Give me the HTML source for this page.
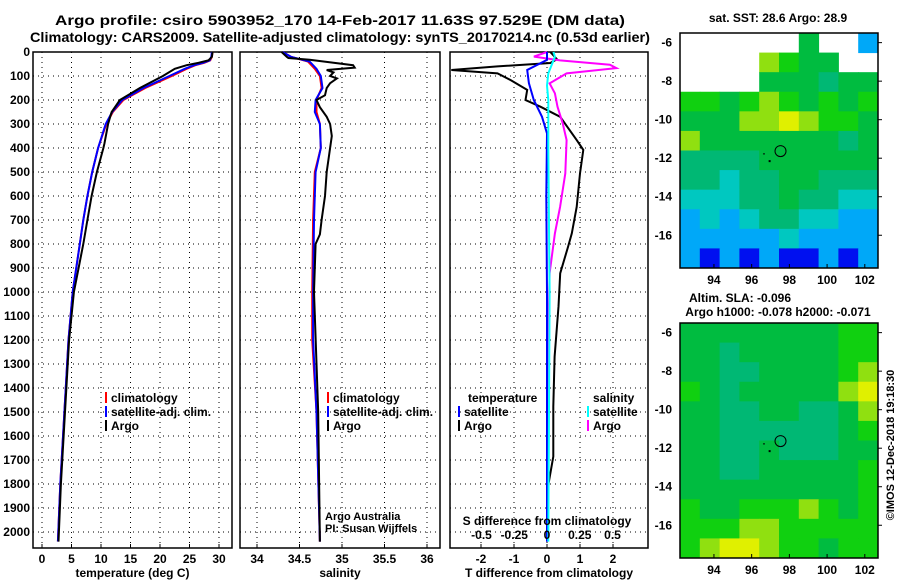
<!DOCTYPE html>
<html><head><meta charset="utf-8"><style>
body{margin:0;background:#fff;}
svg text{font-family:"Liberation Sans",sans-serif;font-weight:bold;fill:#000;}
</style></head><body>
<svg id="fig" width="900" height="580" viewBox="0 0 900 580" xmlns="http://www.w3.org/2000/svg">
<text x="340" y="25" font-size="14" text-anchor="middle" textLength="570" lengthAdjust="spacingAndGlyphs">Argo profile: csiro 5903952_170 14-Feb-2017 11.63S 97.529E (DM data)</text>
<text x="340" y="42" font-size="14" text-anchor="middle" textLength="620" lengthAdjust="spacingAndGlyphs">Climatology: CARS2009. Satellite-adjusted climatology: synTS_20170214.nc (0.53d earlier)</text>
<g id="g"></g>
</svg>
<script>
// ---- profile data ----
const depthAxisTicks=[0,100,200,300,400,500,600,700,800,900,1000,1100,1200,1300,1400,1500,1600,1700,1800,1900,2000];
const tempTicks=[0,5,10,15,20,25,30];
const salTicks=[34,34.5,35,35.5,36];
const tdiffTicks=[-2,-1,0,1,2];
const sdiffTicks=[-0.5,-0.25,0,0.25,0.5];
const sdiffTickLabels=["-0.5","-0.25","0","0.25","0.5"];

const tArgoDepth=[0,20,35,45,55,70,100,150,200,250,300,380,400,500,600,700,800,1000,1200,1500,1800,2040];
const tArgoVal=[28.9,28.8,28.2,26.5,24.5,22.5,20.5,16.6,13.2,11.8,11.2,10.6,10.4,9.3,8.4,7.7,7.0,5.4,4.6,3.9,3.2,2.8];
const tClimDepth=[0,20,35,45,55,70,100,150,200,250,300,400,500,600,700,800,1000,1200,1500,1800,2040];
const tClimVal=[28.9,28.8,28.5,27.5,26.0,24.5,22.0,17.5,13.8,12.0,10.9,9.5,8.5,7.7,7.0,6.4,5.2,4.5,3.8,3.1,2.7];
const tSatVal=[28.8,28.7,28.4,27.3,25.8,24.2,21.6,17.2,13.6,11.9,10.8,9.5,8.5,7.7,7.0,6.4,5.2,4.5,3.8,3.1,2.7];

const sArgoDepth=[0,20,25,32,45,55,65,75,85,100,110,130,150,180,200,230,270,300,350,400,450,500,600,700,760,800,1000,1500,2040];
const sArgoVal=[34.29,34.35,34.37,34.62,34.9,35.13,35.15,34.82,34.9,34.86,34.94,34.86,34.82,34.8,34.7,34.74,34.82,34.86,34.88,34.86,34.84,34.82,34.8,34.76,34.74,34.69,34.67,34.72,34.74];
const sClimDepth=[0,20,40,70,100,150,200,250,300,400,500,700,1000,1200,1500,2040];
const sClimVal=[34.3,34.4,34.6,34.68,34.74,34.76,34.7,34.7,34.74,34.75,34.68,34.66,34.65,34.65,34.7,34.74];
const sSatVal=[34.3,34.4,34.62,34.7,34.75,34.77,34.69,34.68,34.74,34.75,34.69,34.67,34.66,34.66,34.7,34.74];

const tdArgoDepth=[0,30,46,60,75,89,117,158,200,228,270,367,408,506,645,756,811,922,1061,1270,1478,1686,1797,1964,2040];
const tdArgoVal=[0.1,0.3,0.1,-1.5,-2.9,-1.5,-1.1,-0.6,-0.65,-0.2,0.4,0.9,1.1,1.0,0.9,0.75,0.64,0.4,0.35,0.23,0.19,0.19,0.05,0,0];
const tdSatDepth=[0,33,75,130,200,270,339,600,1000,2040];
const tdSatVal=[0,0,-0.6,-0.55,-0.4,-0.15,0,-0.02,0,0];
const sdArgoDepth=[0,19,35,53,67,89,131,172,228,297,367,506,645,756,922,1200,1500,2040];
const sdArgoVal=[0.0,-0.1,0.1,0.48,0.53,0.15,0.02,0.06,0.08,0.12,0.15,0.14,0.1,0.06,0.02,0.01,0,0];
const sdSatDepth=[0,20,89,140,200,400,1000,2040];
const sdSatVal=[0.05,0.06,0.01,0.0,0.01,0.01,0.02,0.01];

// ---- map data (palette index per cell; '.' = no data) ----
const sstRows=["......5..2","....7655..","....555455","6656765656","5557787665","7555555545","4444555555","4434455444","3334454433","2323443322","2222232222","2121211212"];
const slaRows=["5555555566","5545555566","5544555567","6545555578","5544554457","5544444456","5544544455","5544555556","5555555556","6556667656","6667766666","6788766566"];
const palette={"1":"#0010f0","2":"#00a8f8","3":"#00c8c0","4":"#00b874","5":"#00bc40","6":"#10d010","7":"#90e010","8":"#e0f000"};
const lonTicks=[94,96,98,100,102];
const latTicks=[-6,-8,-10,-12,-14,-16];

const NS="http://www.w3.org/2000/svg";
const G=document.getElementById('g');
function mk(tag,attrs,parent){const e=document.createElementNS(NS,tag);for(const k in attrs)e.setAttribute(k,attrs[k]);(parent||G).appendChild(e);return e;}
function txt(s,x,y,size,anchor,name,fill){const t=mk('text',{x:x,y:y,'font-size':size,'text-anchor':anchor||'start'});if(fill)t.setAttribute('fill',fill);t.textContent=s;


return t;}

const Y=d=>52+d*0.24;
const panels=[
 {l:33,r:232,X:v=>42+v*5.9,ticks:tempTicks,labs:tempTicks.map(String),title:"temperature (deg C)",name:"temperature-panel"},
 {l:240,r:440,X:v=>257+(v-34)*85,ticks:salTicks,labs:salTicks.map(String),title:"salinity",name:"salinity-panel"},
 {l:450,r:648,X:v=>547+v*33,ticks:tdiffTicks,labs:tdiffTicks.map(String),title:"T difference from climatology",name:"difference-panel"}
];
const pTop=52,pBot=548;
panels.forEach(p=>{
 const g=mk('g',{});
 
 
 depthAxisTicks.forEach(d=>{mk('line',{x1:p.l,x2:p.r,y1:Y(d),y2:Y(d),stroke:'#000','stroke-dasharray':'1,4','stroke-width':1},g);});
 p.ticks.forEach((v,i)=>{const x=p.X(v);mk('line',{x1:x,x2:x,y1:pTop,y2:pBot,stroke:'#000','stroke-dasharray':'1,4','stroke-width':1},g);
  mk('line',{x1:x,x2:x,y1:pBot,y2:pBot-4,stroke:'#000'},g);
  txt(p.labs[i],x,563,12,'middle','x-tick-label');});
 mk('rect',{x:p.l,y:pTop,width:p.r-p.l,height:pBot-pTop,fill:'none',stroke:'#000','stroke-width':1.5},g);
 txt(p.title,(p.l+p.r)/2,577,12,'middle','x-axis-title');
});
depthAxisTicks.forEach(d=>txt(String(d),30,Y(d)+4,12,'end','depth-tick-label'));

function line(dep,val,X,color,name,w){
 const pts=dep.map((d,i)=>X(val[i]).toFixed(1)+','+Y(d).toFixed(1)).join(' ');
 const e=mk('polyline',{points:pts,fill:'none',stroke:color,'stroke-width':w||2});
 
 
}
const P=panels;
line(tClimDepth,tClimVal,P[0].X,'#f00','temp-climatology-line');
line(tClimDepth,tSatVal,P[0].X,'#00f','temp-satellite-line');
line(tArgoDepth,tArgoVal,P[0].X,'#000','temp-argo-line');
line(sClimDepth,sClimVal,P[1].X,'#f00','sal-climatology-line');
line(sClimDepth,sSatVal,P[1].X,'#00f','sal-satellite-line');
line(sArgoDepth,sArgoVal,P[1].X,'#000','sal-argo-line');
const SX=v=>547+v*131;
line(tdArgoDepth,tdArgoVal,P[2].X,'#000','tdiff-argo-line');
line(sdArgoDepth,sdArgoVal,SX,'#f0f','sdiff-argo-line');
line(tdSatDepth,tdSatVal,P[2].X,'#00f','tdiff-satellite-line');
line(sdSatDepth,sdSatVal,SX,'#0ff','sdiff-satellite-line');

function leg(x,y,color,label){mk('rect',{x:x,y:y-10,width:2,height:11,fill:color});txt(label,x+6,y,12,'start','legend-entry');}
leg(105,402,'#f00','climatology');leg(105,416,'#00f','satellite-adj. clim.');leg(105,430,'#000','Argo');
leg(327,402,'#f00','climatology');leg(327,416,'#00f','satellite-adj. clim.');leg(327,430,'#000','Argo');
txt('temperature',468,402,12,'start','legend-title');leg(458,416,'#00f','satellite');leg(458,430,'#000','Argo');
txt('salinity',593,402,12,'start','legend-title');leg(587,416,'#0ff','satellite');leg(587,430,'#f0f','Argo');
txt('Argo Australia',325,520,11,'start','credit-text').setAttribute('font-weight','normal');
txt('PI: Susan Wijffels',325,532,11,'start','credit-text').setAttribute('font-weight','normal');
txt('S difference from climatology',547,525,12,'middle','sdiff-axis-title');
sdiffTicks.forEach((v,i)=>txt(sdiffTickLabels[i],SX(v),539,12,'middle','sdiff-tick-label'));

// maps
function drawMap(rows,y0,y1,name){
 const x0=680,x1=878,lon0=92.2,lon1=102.7,lat0=-5.5,lat1=-17.7;
 const MX=l=>x0+(l-lon0)/(lon1-lon0)*(x1-x0), MY=l=>y0+(l-lat0)/(lat1-lat0)*(y1-y0);
 const g=mk('g',{});
 
 
 const nr=rows.length,nc=rows[0].length;
 rows.forEach((r,i)=>{for(let j=0;j<nc;j++){const c=r[j];if(c==='.')continue;
  const cx=x0+j*(x1-x0)/nc,cy=y0+i*(y1-y0)/nr;
  const e=mk('rect',{x:cx,y:cy,width:(x1-x0)/nc+0.5,height:(y1-y0)/nr+0.5,fill:palette[c]},g);
  
  }});
 mk('rect',{x:x0,y:y0,width:x1-x0,height:y1-y0,fill:'none',stroke:'#000','stroke-width':1.5},g);
 lonTicks.forEach(l=>{mk('line',{x1:MX(l),x2:MX(l),y1:y1,y2:y1-4,stroke:'#000'},g);txt(String(l),MX(l),y1+16,12,'middle','lon-tick-label');});
 latTicks.forEach(l=>{mk('line',{x1:x1,x2:x1+4,y1:MY(l),y2:MY(l),stroke:'#000'},g);txt(String(l),672,MY(l)+4,12,'end','lat-tick-label');});
 const c=mk('circle',{cx:MX(97.53),cy:MY(-11.63),r:5.5,fill:'none',stroke:'#000','stroke-width':1},g);
 
 
 mk('rect',{x:MX(96.6),y:MY(-11.75),width:2,height:1,fill:'#000'},g);
 mk('rect',{x:MX(96.9),y:MY(-12.1),width:2,height:2,fill:'#000'},g);
}
drawMap(sstRows,33,268,'sst-map');
drawMap(slaRows,323,558,'sla-map');
txt('sat. SST: 28.6 Argo: 28.9',778,22,12,'middle','sst-map-title');
txt('Altim. SLA: -0.096',740,302,12,'middle','sla-map-title');
txt('Argo h1000: -0.078 h2000: -0.071',778,316,12,'middle','sla-map-subtitle');
const cr=txt('©IMOS 12-Dec-2018 19:18:30',894,445,11,'middle','timestamp-credit');
cr.setAttribute('font-weight','normal');
cr.setAttribute('transform','rotate(-90 894 445)');
</script>
</body></html>
